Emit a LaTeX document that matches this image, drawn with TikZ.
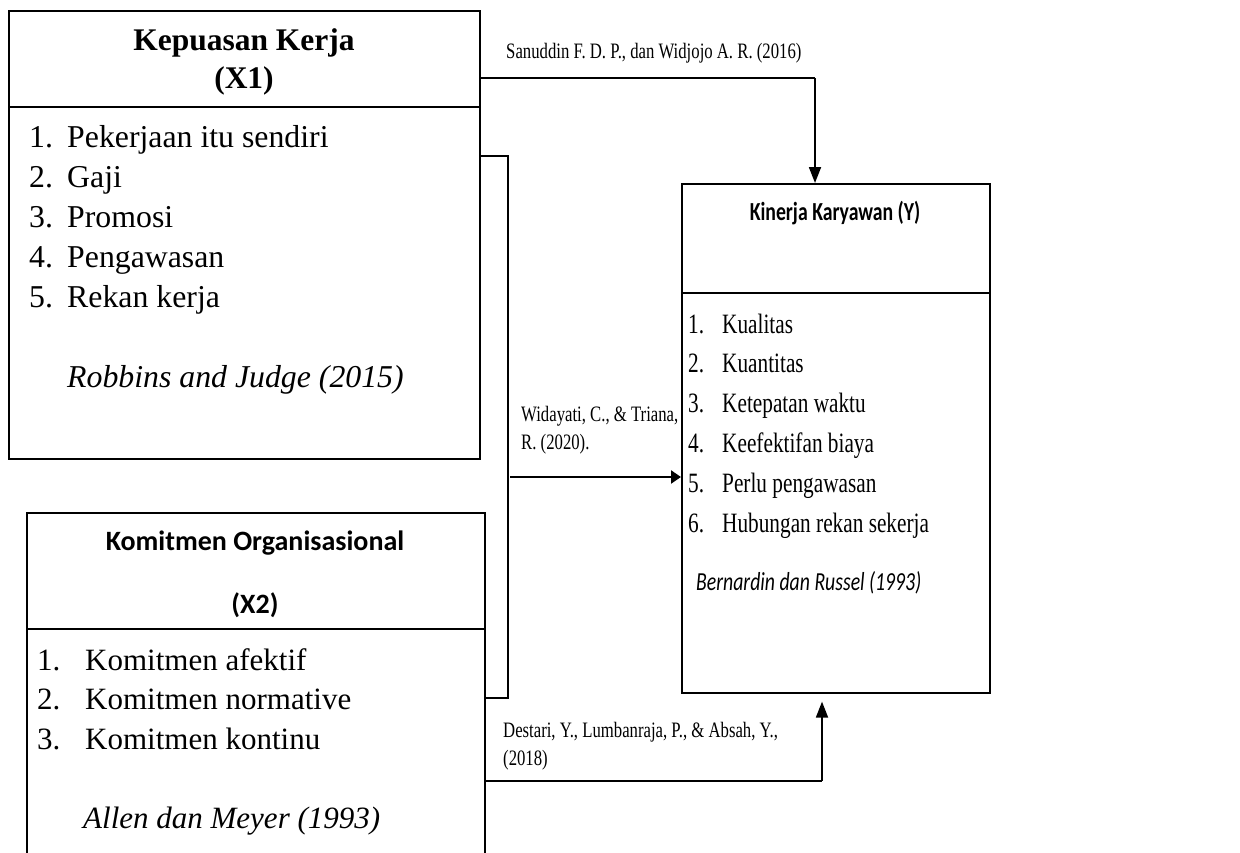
\documentclass[tikz,border=0pt]{standalone}
\usepackage{fontspec}
\setmainfont{Liberation Serif}
\newfontfamily\calib{Carlito}
\newfontfamily\narrowserif[FakeStretch=0.76]{Liberation Serif}
\newfontfamily\narrowcalib[FakeStretch=0.76]{Carlito}
\usetikzlibrary{arrows.meta}
\tikzset{
  box/.style={draw, line width=1.6pt, inner sep=0pt, anchor=north west},
  divider/.style={line width=2.8pt},
  conn/.style={line width=1.2pt},
  vconn/.style={line width=1.8pt},
  tip/.style={-{Triangle[length=16pt,width=12pt]}},
  txt/.style={inner sep=0pt, anchor=base west},
  ctxt/.style={inner sep=0pt, anchor=base},
  xonelist/.style={txt, font=\fontsize{31.8}{31.8}\selectfont},
  xlist/.style={txt, font=\fontsize{31}{31}\selectfont},
  ylist/.style={txt, font=\narrowserif\fontsize{28}{28}\selectfont},
  lbl/.style={txt, font=\narrowserif\fontsize{22}{22}\selectfont},
}
\begin{document}
\begin{tikzpicture}[x=1pt,y=-1pt]
\useasboundingbox (0,0) rectangle (1240,852);
\clip (0,0) rectangle (1240,852);
\fill[white] (0,0) rectangle (1240,852);

% boxes
\node[box, minimum width=471pt, minimum height=448pt] (x1) at (8,10) {};
\node[box, minimum width=458pt, minimum height=400pt] (x2) at (26,512) {};
\node[box, minimum width=308pt, minimum height=509pt] (yb) at (681,183) {};

% dividers
\coordinate (d1) at (0,107);
\coordinate (d2) at (0,629);
\coordinate (d3) at (0,293);
\draw[divider] (x1.west |- d1) -- (x1.east |- d1);
\draw[divider] (x2.west |- d2) -- (x2.east |- d2);
\draw[divider] (yb.west |- d3) -- (yb.east |- d3);

% titles
\node[ctxt, font=\fontsize{31.5}{31.5}\selectfont\bfseries] (x1ta) at (244,50) {Kepuasan Kerja};
\node[ctxt, font=\fontsize{31.5}{31.5}\selectfont\bfseries] (x1tb) at (244,88) {(X1)};
\node[ctxt, font=\calib\fontsize{28}{28}\selectfont\bfseries] (x2ta) at (255,550) {Komitmen Organisasional};
\node[ctxt, font=\calib\fontsize{28}{28}\selectfont\bfseries] (x2tb) at (255,613) {(X2)};
\node[ctxt, font=\narrowcalib\fontsize{26}{26}\selectfont\bfseries] (yt) at (835,220) {Kinerja Karyawan (Y)};

% X1 list
\foreach \t [count=\i] in {Pekerjaan itu sendiri, Gaji, Promosi, Pengawasan, Rekan kerja}{
  \node[xonelist] (x1n\i) at (29,{147+40*(\i-1)}) {\i.};
  \node[xonelist] (x1i\i) at (67,{147+40*(\i-1)}) {\t};
}
\node[xonelist, font=\fontsize{31.8}{31.8}\selectfont\itshape] (x1src) at (67,387) {Robbins and Judge (2015)};

% X2 list
\foreach \t [count=\i] in {Komitmen afektif, Komitmen normative, Komitmen kontinu}{
  \node[xlist] (x2n\i) at (37,{670+39.5*(\i-1)}) {\i.};
  \node[xlist] (x2i\i) at (85,{670+39.5*(\i-1)}) {\t};
}
\node[xlist, font=\fontsize{31}{31}\selectfont\itshape] (x2src) at (83,828) {Allen dan Meyer (1993)};

% Y list
\foreach \t [count=\i] in {Kualitas, Kuantitas, Ketepatan waktu, Keefektifan biaya, Perlu pengawasan, Hubungan rekan sekerja}{
  \node[ylist] (yn\i) at (688,{333+39.8*(\i-1)}) {\i.};
  \node[ylist] (yi\i) at (722,{333+39.8*(\i-1)}) {\t};
}
\node[txt, font=\narrowcalib\fontsize{26}{26}\selectfont\itshape] (ysrc) at (696,590) {Bernardin dan Russel (1993)};

% connectors
\coordinate (c1) at (815,78);
\draw[conn] (x1.east |- c1) -- (c1);
\draw[vconn, tip] (c1) -- (c1 |- yb.north);

\coordinate (m1) at (508,156);
\coordinate (m2) at (508,698);
\coordinate (m3) at (510,477);
\draw[conn] (x1.east |- m1) -- (m1) -- (m2) -- (x2.east |- m2);
\draw[line width=2.2pt, -{Triangle[length=10pt,width=13pt]}] (m3) -- (yb.west |- m3);

\coordinate (b1) at (822,781);
\draw[conn] (x2.east |- b1) -- (b1);
\draw[vconn, tip, shorten >=8pt] (b1) -- (b1 |- yb.south);

% labels
\node[lbl] (l1) at (506,58) {Sanuddin F. D. P., dan Widjojo A. R. (2016)};
\node[lbl] (l2a) at (521,421) {Widayati, C., \& Triana,};
\node[lbl] (l2b) at (521,449) {R. (2020).};
\node[lbl] (l3a) at (503,737) {Destari, Y., Lumbanraja, P., \& Absah, Y.,};
\node[lbl] (l3b) at (503,765) {(2018)};
\end{tikzpicture}
\end{document}
